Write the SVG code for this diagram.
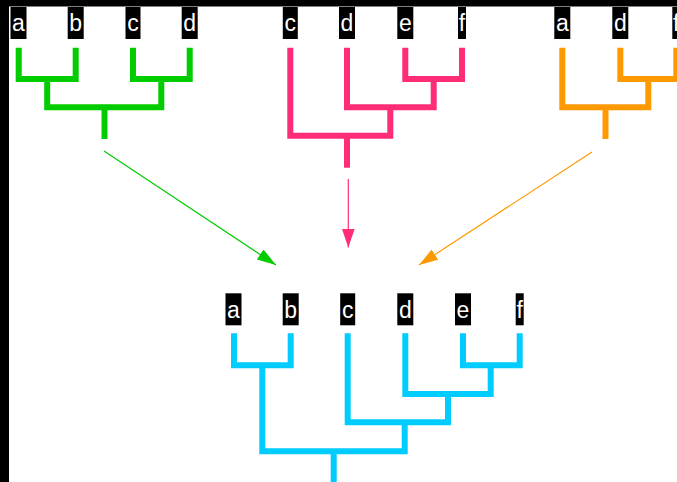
<svg xmlns="http://www.w3.org/2000/svg" width="677" height="482" viewBox="0 0 677 482">
<style>
.t{fill:none;stroke-width:6;stroke-linejoin:miter;stroke-linecap:butt}
.g{stroke:#00cc00}.p{stroke:#ff2d78}.o{stroke:#ff9900}.b{stroke:#00ccff}
.box{fill:#000}
.lb{fill:#fff;font-family:"Liberation Sans",Arial,sans-serif;font-size:23px;text-anchor:middle}
.ar{fill:none;stroke-width:1.2}
</style>
<defs>
<marker id="mg" markerUnits="userSpaceOnUse" markerWidth="20" markerHeight="12" refX="19" refY="6" orient="auto"><path d="M0,0 L19,6 L0,12 z" fill="#00cc00"/></marker>
<marker id="mp" markerUnits="userSpaceOnUse" markerWidth="20" markerHeight="13" refX="19" refY="6.5" orient="auto"><path d="M0,0 L19,6.5 L0,13 z" fill="#ff2d78"/></marker>
<marker id="mo" markerUnits="userSpaceOnUse" markerWidth="20" markerHeight="12" refX="19" refY="6" orient="auto"><path d="M0,0 L19,6 L0,12 z" fill="#ff9900"/></marker>
</defs>
<rect x="0" y="0" width="677" height="482" fill="#fff"/>
<rect x="0" y="0" width="677" height="6.5" fill="#000"/>
<rect x="0" y="0" width="9" height="482" fill="#000"/>

<g id="tree-green">
<path class="t g" d="M18.7,47.7 V79 H75.7 V47.7"/>
<path class="t g" d="M133,47.7 V79 H189.7 V47.7"/>
<path class="t g" d="M47.2,79 V107.3 H161.3 V79"/>
<path class="t g" d="M104.5,107.3 V139"/>
<rect class="box" x="10.5" y="7" width="16" height="32"/><text class="lb" x="18.5" y="31">a</text>
<rect class="box" x="67.7" y="7" width="16" height="32"/><text class="lb" x="75.7" y="31">b</text>
<rect class="box" x="125.5" y="7" width="15" height="32"/><text class="lb" x="133" y="31">c</text>
<rect class="box" x="181.7" y="7" width="16" height="32"/><text class="lb" x="189.7" y="31">d</text>
</g>

<g id="tree-pink">
<path class="t p" d="M405.3,47.7 V79 H462 V47.7"/>
<path class="t p" d="M347,47.7 V107.3 H433.7 V79"/>
<path class="t p" d="M290.3,47.7 V135.7 H390.3 V107.3"/>
<path class="t p" d="M347,135.7 V167.7"/>
<rect class="box" x="282.8" y="7" width="15" height="32"/><text class="lb" x="290.3" y="31">c</text>
<rect class="box" x="339" y="7" width="16" height="32"/><text class="lb" x="347" y="31">d</text>
<rect class="box" x="397.3" y="7" width="16" height="32"/><text class="lb" x="405.3" y="31">e</text>
<rect class="box" x="458" y="7" width="8" height="32"/><text class="lb" x="462" y="31">f</text>
</g>

<g id="tree-orange">
<path class="t o" d="M620.3,47.7 V79 H676.3 V47.7"/>
<path class="t o" d="M562.3,47.7 V107.3 H648.3 V79"/>
<path class="t o" d="M605.5,107.3 V139"/>
<rect class="box" x="554.3" y="7" width="16" height="32"/><text class="lb" x="562.3" y="31">a</text>
<rect class="box" x="612.3" y="7" width="16" height="32"/><text class="lb" x="620.3" y="31">d</text>
<rect class="box" x="672.3" y="7" width="8" height="32"/><text class="lb" x="676.3" y="31">f</text>
</g>

<g id="tree-blue">
<path class="t b" d="M234,333.3 V365.3 H290.7 V333.3"/>
<path class="t b" d="M463,333.3 V365.3 H519.7 V333.3"/>
<path class="t b" d="M405.3,333.3 V394 H490.7 V365.3"/>
<path class="t b" d="M347.7,333.3 V422.3 H448 V394"/>
<path class="t b" d="M262.3,365.3 V451.3 H404.7 V422.3"/>
<path class="t b" d="M333.7,451.3 V482"/>
<rect class="box" x="225.5" y="293.3" width="16" height="32"/><text class="lb" x="233.5" y="317.5">a</text>
<rect class="box" x="282.7" y="293.3" width="16" height="32"/><text class="lb" x="290.7" y="317.5">b</text>
<rect class="box" x="340.2" y="293.3" width="15" height="32"/><text class="lb" x="347.7" y="317.5">c</text>
<rect class="box" x="397.3" y="293.3" width="16" height="32"/><text class="lb" x="405.3" y="317.5">d</text>
<rect class="box" x="455" y="293.3" width="16" height="32"/><text class="lb" x="463" y="317.5">e</text>
<rect class="box" x="515.7" y="293.3" width="8" height="32"/><text class="lb" x="519.7" y="317.5">f</text>
</g>

<g id="connectors">
<line class="ar" x1="104" y1="151" x2="276" y2="265" stroke="#00cc00" marker-end="url(#mg)"/>
<line class="ar" x1="348.3" y1="179" x2="348.3" y2="247.5" stroke="#ff2d78" marker-end="url(#mp)"/>
<line class="ar" x1="592" y1="152" x2="419" y2="265" stroke="#ff9900" marker-end="url(#mo)"/>
</g>
</svg>
